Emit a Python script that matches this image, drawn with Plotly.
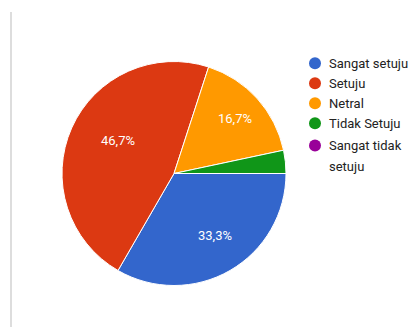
import math
import plotly.graph_objects as go

categories = ["Sangat setuju", "Setuju", "Netral", "Tidak Setuju", "Sangat tidak setuju"]
legend_labels = ["Sangat setuju", "Setuju", "Netral", "Tidak Setuju", "Sangat tidak<br>setuju"]
values = [10, 14, 5, 1, 0]
colors = ["#3366cc", "#dc3912", "#ff9900", "#109618", "#990099"]

W, H = 408, 327
CX, CY, R = 174, 173.5, 112        # pie centre / radius in pixels
START_DEG = 90                     # first slice starts at 3 o'clock
LABEL_FRAC = 0.735
total = sum(values)

fig = go.Figure()
fig.add_trace(go.Pie(
    labels=categories,
    values=values,
    sort=False,
    direction="clockwise",
    rotation=START_DEG,
    marker=dict(colors=colors, line=dict(color="white", width=1)),
    textinfo="none",
    showlegend=False,
    hoverinfo="label+percent",
    domain=dict(x=[(CX - R) / W, (CX + R) / W],
                y=[1 - (CY + R) / H, 1 - (CY - R) / H]),
))

# percentage labels, placed at the middle angle of each slice
annotations = []
cum = 0
for v in values:
    frac = v / total
    mid = START_DEG + 360 * (cum + frac / 2)
    cum += frac
    if frac < 0.05:
        continue
    a = math.radians(mid)
    px = CX + LABEL_FRAC * R * math.sin(a)
    py = CY - LABEL_FRAC * R * math.cos(a)
    txt = f"{frac * 100:.1f}%".replace(".", ",")
    annotations.append(dict(x=px / W, y=1 - py / H, xref="paper", yref="paper",
                            text=txt, showarrow=False,
                            font=dict(color="white", size=13, family="Roboto")))

# custom legend with circular markers
LEG_X, LEG_Y0, LEG_STEP, LINE_H = 315, 63.3, 20, 21.3
leg_y = []
y = LEG_Y0
for lab in legend_labels:
    if "<br>" in lab and leg_y:
        y += 2.3
    leg_y.append(y)
    nlines = lab.count("<br>") + 1
    y += LEG_STEP if nlines == 1 else LEG_STEP + (nlines - 1) * LINE_H

fig.add_trace(go.Scatter(
    x=[LEG_X] * len(legend_labels), y=leg_y, mode="markers",
    marker=dict(symbol="circle", size=12, color=colors, line=dict(width=0)),
    hoverinfo="skip", showlegend=False,
))
for lab, yy in zip(legend_labels, leg_y):
    for k, line in enumerate(lab.split("<br>")):
        annotations.append(dict(x=LEG_X + 12, y=yy + k * LINE_H, xref="x", yref="y",
                                text=line, showarrow=False, xanchor="left", yanchor="middle",
                                font=dict(color="#222222", size=13, family="Roboto")))

fig.update_xaxes(visible=False, range=[0, W], domain=[0, 1], fixedrange=True)
fig.update_yaxes(visible=False, range=[H, 0], domain=[0, 1], fixedrange=True)

fig.add_shape(type="line", xref="paper", yref="paper",
              x0=11 / W, x1=11 / W, y0=0, y1=1 - 12 / H,
              line=dict(color="#dddddd", width=2))

fig.update_layout(
    width=W, height=H,
    margin=dict(l=0, r=0, t=0, b=0),
    paper_bgcolor="white", plot_bgcolor="rgba(0,0,0,0)",
    font=dict(family="Roboto", size=13, color="#222222"),
    annotations=annotations,
    showlegend=False,
)

fig.write_html("out.html")
